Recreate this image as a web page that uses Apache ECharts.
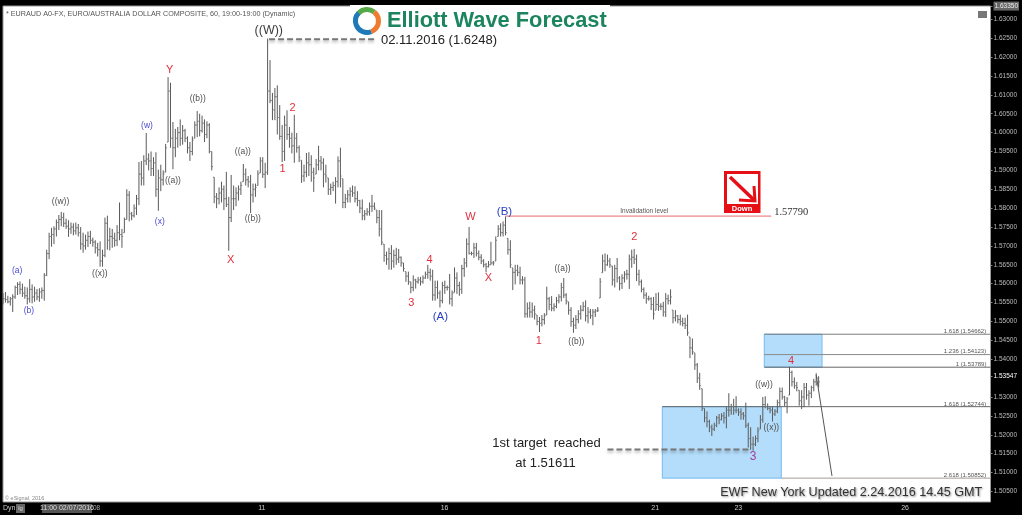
<!DOCTYPE html>
<html><head><meta charset="utf-8">
<style>html,body{margin:0;padding:0;background:#fff;width:1024px;height:517px;overflow:hidden}#c{width:1022px;height:515px}</style>
<script src="https://cdn.jsdelivr.net/npm/echarts@6/dist/echarts.min.js"></script>
</head><body><div id="c"></div>
<script>
const highs=[
1.5575,1.5578,1.5568,1.5565,1.5572,1.5595,1.5604,1.5606,1.5600,1.5592,
1.5590,1.5612,1.5598,1.5592,1.5586,1.5588,1.5590,1.5628,1.5690,1.5735,
1.5748,1.5752,1.5770,1.5782,1.5790,1.5788,1.5772,1.5768,1.5762,1.5760,
1.5762,1.5758,1.5750,1.5735,1.5730,1.5738,1.5740,1.5722,1.5715,1.5708,
1.5712,1.5690,1.5775,1.5780,1.5748,1.5745,1.5735,1.5755,1.5815,1.5745,
1.5775,1.5850,1.5845,1.5790,1.5810,1.5835,1.5922,1.5925,1.5940,1.5999,
1.5945,1.5950,1.5935,1.5948,1.5902,1.5915,1.5900,1.5970,1.6147,1.6132,
1.6028,1.6010,1.6015,1.6035,1.6020,1.6010,1.5990,1.5975,1.5990,1.6030,
1.6057,1.6050,1.6045,1.6035,1.6030,1.6025,1.5950,1.5882,1.5840,1.5855,
1.5870,1.5860,1.5896,1.5830,1.5888,1.5860,1.5855,1.5860,1.5870,1.5917,
1.5905,1.5885,1.5888,1.5865,1.5865,1.5900,1.5935,1.5935,1.5920,1.6249,
1.6192,1.6105,1.6118,1.6125,1.6073,1.6020,1.6045,1.6059,1.6015,1.6000,
1.6047,1.5999,1.5966,1.5927,1.5915,1.5946,1.5948,1.5940,1.5907,1.5930,
1.5965,1.5938,1.5932,1.5915,1.5880,1.5865,1.5870,1.5882,1.5937,1.5960,
1.5878,1.5838,1.5848,1.5855,1.5860,1.5858,1.5845,1.5822,1.5823,1.5795,
1.5800,1.5815,1.5835,1.5815,1.5795,1.5795,1.5795,1.5705,1.5685,1.5695,
1.5702,1.5690,1.5695,1.5692,1.5672,1.5655,1.5632,1.5632,1.5605,1.5622,
1.5613,1.5618,1.5618,1.5622,1.5632,1.5650,1.5640,1.5637,1.5608,1.5608,
1.5582,1.5605,1.5608,1.5595,1.5626,1.5582,1.5643,1.5630,1.5605,1.5650,
1.5668,1.5720,1.5750,1.5685,1.5708,1.5708,1.5688,1.5678,1.5665,1.5655,
1.5660,1.5711,1.5660,1.5725,1.5755,1.5760,1.5765,1.5778,1.5720,1.5715,
1.5642,1.5650,1.5650,1.5645,1.5620,1.5618,1.5550,1.5552,1.5550,1.5542,
1.5517,1.5512,1.5517,1.5522,1.5592,1.5565,1.5567,1.5548,1.5565,1.5572,
1.5602,1.5615,1.5575,1.5552,1.5538,1.5510,1.5517,1.5530,1.5543,1.5552,
1.5556,1.5538,1.5533,1.5533,1.5533,1.5538,1.5615,1.5677,1.5680,1.5677,
1.5668,1.5647,1.5650,1.5668,1.5620,1.5625,1.5633,1.5637,1.5677,1.5690,
1.5692,1.5677,1.5637,1.5611,1.5590,1.5577,1.5568,1.5564,1.5565,1.5575,
1.5577,1.5548,1.5552,1.5575,1.5571,1.5585,1.5530,1.5530,1.5517,1.5518,
1.5510,1.5510,1.5518,1.5459,1.5455,1.5417,1.5390,1.5364,1.5322,1.5270,
1.5262,1.5240,1.5227,1.5232,1.5250,1.5255,1.5257,1.5260,1.5273,1.5310,
1.5282,1.5295,1.5302,1.5270,1.5270,1.5260,1.5285,1.5232,1.5220,1.5195,
1.5198,1.5220,1.5252,1.5300,1.5302,1.5283,1.5273,1.5273,1.5268,1.5293,
1.5325,1.5325,1.5303,1.5300,1.5380,1.5370,1.5352,1.5340,1.5318,1.5318,
1.5337,1.5337,1.5318,1.5330,1.5348,1.5363,1.5355];
const lows=[
1.5545,1.5550,1.5548,1.5542,1.5525,1.5560,1.5570,1.5572,1.5565,1.5560,
1.5545,1.5550,1.5548,1.5552,1.5556,1.5552,1.5560,1.5555,1.5620,1.5665,
1.5698,1.5705,1.5725,1.5742,1.5752,1.5750,1.5745,1.5724,1.5732,1.5728,
1.5730,1.5725,1.5690,1.5682,1.5690,1.5697,1.5705,1.5698,1.5680,1.5672,
1.5645,1.5645,1.5670,1.5690,1.5688,1.5695,1.5698,1.5700,1.5715,1.5695,
1.5735,1.5770,1.5765,1.5768,1.5775,1.5782,1.5808,1.5860,1.5860,1.5914,
1.5900,1.5885,1.5885,1.5830,1.5793,1.5845,1.5860,1.5895,1.5975,1.5960,
1.5903,1.5935,1.5960,1.5965,1.5968,1.5975,1.5945,1.5925,1.5940,1.5985,
1.5988,1.5990,1.6000,1.5975,1.5985,1.5945,1.5900,1.5813,1.5800,1.5810,
1.5815,1.5795,1.5803,1.5687,1.5763,1.5795,1.5805,1.5820,1.5835,1.5870,
1.5860,1.5855,1.5787,1.5815,1.5830,1.5860,1.5893,1.5880,1.5853,1.5888,
1.6078,1.6033,1.6033,1.5995,1.5981,1.5922,1.5925,1.5981,1.5960,1.5945,
1.5920,1.5947,1.5922,1.5867,1.5870,1.5882,1.5885,1.5870,1.5843,1.5890,
1.5900,1.5900,1.5855,1.5868,1.5835,1.5835,1.5845,1.5812,1.5855,1.5855,
1.5800,1.5800,1.5815,1.5815,1.5830,1.5815,1.5805,1.5787,1.5768,1.5768,
1.5780,1.5780,1.5790,1.5795,1.5760,1.5725,1.5702,1.5658,1.5650,1.5637,
1.5637,1.5642,1.5650,1.5655,1.5645,1.5632,1.5605,1.5597,1.5575,1.5580,
1.5587,1.5600,1.5595,1.5600,1.5613,1.5613,1.5608,1.5555,1.5555,1.5560,
1.5537,1.5548,1.5573,1.5582,1.5545,1.5540,1.5577,1.5573,1.5568,1.5573,
1.5618,1.5643,1.5677,1.5675,1.5668,1.5672,1.5662,1.5652,1.5643,1.5630,
1.5643,1.5650,1.5648,1.5660,1.5725,1.5725,1.5725,1.5728,1.5677,1.5642,
1.5583,1.5598,1.5620,1.5598,1.5598,1.5510,1.5510,1.5510,1.5510,1.5505,
1.5490,1.5472,1.5487,1.5492,1.5517,1.5530,1.5527,1.5527,1.5535,1.5548,
1.5553,1.5562,1.5545,1.5518,1.5486,1.5470,1.5480,1.5495,1.5505,1.5527,
1.5500,1.5495,1.5507,1.5490,1.5512,1.5525,1.5562,1.5629,1.5633,1.5647,
1.5642,1.5595,1.5590,1.5603,1.5582,1.5586,1.5603,1.5611,1.5586,1.5642,
1.5652,1.5607,1.5595,1.5577,1.5560,1.5547,1.5555,1.5530,1.5505,1.5530,
1.5528,1.5530,1.5513,1.5512,1.5545,1.5545,1.5495,1.5500,1.5495,1.5490,
1.5487,1.5480,1.5462,1.5403,1.5412,1.5372,1.5337,1.5319,1.5263,1.5233,
1.5220,1.5207,1.5197,1.5210,1.5220,1.5228,1.5238,1.5230,1.5217,1.5248,
1.5253,1.5253,1.5257,1.5250,1.5240,1.5240,1.5218,1.5166,1.5160,1.5158,
1.5170,1.5180,1.5215,1.5232,1.5270,1.5265,1.5257,1.5235,1.5250,1.5257,
1.5275,1.5293,1.5275,1.5257,1.5305,1.5328,1.5322,1.5315,1.5277,1.5268,
1.5273,1.5293,1.5277,1.5297,1.5315,1.5330,1.5325];
const closes=[
1.5560,1.5558,1.5552,1.5560,1.5565,1.5590,1.5598,1.5585,1.5575,1.5568,
1.5560,1.5585,1.5565,1.5575,1.5565,1.5578,1.5582,1.5622,1.5680,1.5725,
1.5730,1.5745,1.5762,1.5770,1.5775,1.5760,1.5752,1.5745,1.5750,1.5740,
1.5748,1.5735,1.5705,1.5700,1.5715,1.5725,1.5715,1.5710,1.5695,1.5690,
1.5660,1.5675,1.5760,1.5715,1.5725,1.5720,1.5715,1.5735,1.5730,1.5725,
1.5770,1.5835,1.5785,1.5780,1.5800,1.5825,1.5890,1.5880,1.5925,1.5930,
1.5925,1.5905,1.5920,1.5850,1.5880,1.5875,1.5890,1.5960,1.6110,1.5985,
1.5960,1.5985,1.6000,1.5985,1.6005,1.5985,1.5960,1.5950,1.5980,1.6020,
1.6030,1.6005,1.6025,1.5995,1.6020,1.5950,1.5910,1.5830,1.5825,1.5840,
1.5850,1.5825,1.5810,1.5775,1.5825,1.5825,1.5840,1.5850,1.5860,1.5890,
1.5875,1.5870,1.5835,1.5850,1.5855,1.5890,1.5925,1.5890,1.5895,1.6110,
1.6085,1.6060,1.6095,1.6040,1.5990,1.5950,1.6020,1.5995,1.5985,1.5965,
1.5985,1.5960,1.5935,1.5885,1.5895,1.5920,1.5915,1.5895,1.5880,1.5915,
1.5925,1.5920,1.5890,1.5885,1.5850,1.5855,1.5860,1.5870,1.5925,1.5885,
1.5815,1.5825,1.5835,1.5845,1.5840,1.5825,1.5820,1.5800,1.5780,1.5785,
1.5790,1.5805,1.5805,1.5800,1.5775,1.5745,1.5710,1.5675,1.5665,1.5680,
1.5660,1.5675,1.5665,1.5670,1.5655,1.5640,1.5620,1.5605,1.5590,1.5610,
1.5605,1.5610,1.5605,1.5615,1.5625,1.5630,1.5620,1.5570,1.5590,1.5575,
1.5555,1.5595,1.5590,1.5590,1.5560,1.5575,1.5615,1.5595,1.5585,1.5640,
1.5655,1.5705,1.5680,1.5680,1.5695,1.5680,1.5670,1.5660,1.5650,1.5645,
1.5650,1.5655,1.5655,1.5715,1.5745,1.5735,1.5755,1.5735,1.5690,1.5650,
1.5630,1.5635,1.5630,1.5610,1.5610,1.5520,1.5535,1.5525,1.5530,1.5520,
1.5500,1.5495,1.5505,1.5515,1.5560,1.5545,1.5535,1.5540,1.5555,1.5565,
1.5590,1.5570,1.5555,1.5530,1.5500,1.5490,1.5505,1.5520,1.5530,1.5540,
1.5515,1.5525,1.5515,1.5525,1.5528,1.5530,1.5605,1.5660,1.5650,1.5660,
1.5650,1.5610,1.5640,1.5615,1.5600,1.5615,1.5625,1.5625,1.5665,1.5670,
1.5665,1.5625,1.5605,1.5585,1.5570,1.5560,1.5560,1.5545,1.5520,1.5545,
1.5540,1.5540,1.5525,1.5560,1.5555,1.5565,1.5510,1.5515,1.5505,1.5500,
1.5495,1.5490,1.5470,1.5430,1.5420,1.5385,1.5350,1.5330,1.5270,1.5245,
1.5235,1.5220,1.5215,1.5225,1.5245,1.5240,1.5250,1.5245,1.5265,1.5265,
1.5275,1.5265,1.5265,1.5260,1.5255,1.5250,1.5225,1.5190,1.5175,1.5175,
1.5190,1.5210,1.5240,1.5280,1.5275,1.5270,1.5265,1.5255,1.5262,1.5285,
1.5315,1.5300,1.5285,1.5295,1.5365,1.5340,1.5330,1.5325,1.5290,1.5300,
1.5325,1.5305,1.5310,1.5325,1.5340,1.5350,1.5340];

const priceTicks=[1.6335,1.63,1.625,1.62,1.615,1.61,1.605,1.6,1.595,1.59,1.585,1.58,1.575,1.57,1.565,1.56,1.555,1.55,1.545,1.54,1.53547,1.53,1.525,1.52,1.515,1.51,1.505];
const dateTicks=[106.6,181.9,268.7,302.9,371.6];
const dateLabels=['11','16','21','23','26'];

// [x0 index, x1 index, price a, price b]
const zones=[[271.6,320.6,1.52744,1.50852],[313.6,337.4,1.54662,1.53789]];
// [price, start index, end index, style]
const levels=[
 [1.54662,313.6,406.8,'#7d7d7d'],[1.54123,313.6,406.8,'#8a8a8a'],[1.53789,313.6,406.8,'#666'],
 [1.52744,271.6,406.8,'#666'],[1.50852,320.6,406.8,'#a89a9a'],[1.5779,207,316.5,'#e86a6a']];
const dashedLevels=[[1.6247,109.6,153],[1.5161,249,308.2]];
const projection=[[335,1.5358],[341.5,1.5091]];

// [text, index, price, style]
const notes=[
['(a)',5.8,1.5634,'b'],['(b)',10.7,1.5528,'b'],['((w))',23.7,1.5816,'g'],['((x))',39.9,1.5626,'g'],
['(w)',59.3,1.6019,'b'],['(x)',64.6,1.5764,'b'],['Y',68.7,1.6166,'r'],['((a))',70,1.5872,'g'],
['((b))',80.2,1.6090,'g'],['((a))',98.8,1.5949,'g'],['((b))',102.9,1.5771,'g'],['X',93.8,1.5663,'r'],
['((W))',109.5,1.6270,'G'],['2',119.3,1.6065,'r'],['1',115.2,1.5904,'r'],['W',192.6,1.5777,'r'],
['(B)',206.6,1.5791,'B'],['4',175.7,1.5663,'r'],['3',168.2,1.5550,'r'],['(A)',180.2,1.5512,'B'],
['X',200,1.5616,'r'],['1',220.7,1.5449,'r'],['((a))',230.5,1.5639,'g'],['((b))',236.2,1.5446,'g'],
['2',260.1,1.5724,'r'],['Invalidation level',264.2,1.5793,'s'],['4',324.6,1.5396,'r'],
['((w))',313.5,1.5334,'g'],['((x))',316.5,1.5219,'g'],['3',309,1.5141,'p'],
['1st target  reached',223.9,1.5178,'t'],['at 1.51611',223.5,1.5125,'t'],
['02.11.2016 (1.6248)',179.6,1.6243,'t'],['1.57790',324.7,1.5790,'v'],
['EWF New York Updated 2.24.2016 14.45 GMT',349.4,1.5048,'e'],
['1.618 (1.54662)',396.3,1.5475,'f'],['1.236 (1.54123)',396.3,1.5420,'f'],['1 (1.53789)',398.8,1.5387,'f'],
['1.618 (1.52744)',396.3,1.5281,'f'],['2.618 (1.50852)',396.3,1.5093,'f']];

const sans='"Liberation Sans"';
const noteStyles={
 b:{font:'8.5px '+sans,fill:'#4a4ad0'},g:{font:'8.5px '+sans,fill:'#4d4d4d'},
 r:{font:'11px '+sans,fill:'#e0303c'},B:{font:'11.5px '+sans,fill:'#2a3fc0'},
 G:{font:'12.5px '+sans,fill:'#3c3c3c'},p:{font:'12px '+sans,fill:'#a0409c'},
 s:{font:'6.5px '+sans,fill:'#555'},t:{font:'13px '+sans,fill:'#222'},
 v:{font:'10.5px "Liberation Serif"',fill:'#333'},f:{font:'6px '+sans,fill:'#555'},
 e:{font:'12.6px '+sans,fill:'#333',textShadowColor:'rgba(0,0,0,.45)',textShadowBlur:2,textShadowOffsetX:1,textShadowOffsetY:1}
};

const chart=echarts.init(document.getElementById('c'),null,{renderer:'canvas'});
const barData=highs.map((h,i)=>[i,h,lows[i],closes[i],i?closes[i-1]:closes[0]]);
const lineSeries=levels.map(l=>({type:'line',silent:true,symbol:'none',z:3,animation:false,
  data:[[l[1],l[0]],[l[2],l[0]]],lineStyle:{color:l[3],width:1}}));
const dashSeries=dashedLevels.map(l=>({type:'line',silent:true,symbol:'none',z:6,animation:false,
  data:[[l[1],l[0]],[l[2],l[0]]],lineStyle:{color:'#777',width:2,type:[6,3],shadowColor:'rgba(0,0,0,.3)',shadowBlur:3,shadowOffsetY:2}}));

chart.setOption({
 animation:false,backgroundColor:'#000',
 grid:{left:3,right:30.5,top:6,bottom:13,show:true,backgroundColor:'#fff',borderColor:'#999',borderWidth:1},
 xAxis:{type:'value',min:0,max:406.8,splitLine:{show:false},axisLine:{show:false,onZero:false},
  axisTick:{show:false},
  axisLabel:{customValues:dateTicks,color:'#ccc',fontSize:7,margin:3,fontFamily:'Liberation Sans',
   formatter:v=>dateLabels[dateTicks.indexOf(v)]||''}},
 yAxis:{type:'value',position:'right',min:1.5022,max:1.63352,splitLine:{show:false},axisLine:{show:false,onZero:false},
  axisTick:{show:true,length:2,lineStyle:{color:'#888'},customValues:priceTicks},
  axisLabel:{customValues:priceTicks,color:'#bbb',fontSize:6.5,margin:3,fontFamily:'Liberation Sans',
   formatter:v=>v===1.6335?'{t|1.63350}':v===1.53547?'{c|1.53547}':'{n|'+v.toFixed(5)+'}',
   rich:{n:{color:'#bbb',fontSize:6.5},t:{color:'#eee',fontSize:6.5,backgroundColor:'#666',padding:[1,1]},c:{color:'#fff',fontSize:6.5}}}},
 series:[
  {type:'custom',silent:true,z:2,data:zones,clip:true,
   renderItem:(p,api)=>{const a=api.coord([api.value(0),api.value(2)]),b=api.coord([api.value(1),api.value(3)]);
    return {type:'rect',shape:{x:a[0],y:a[1],width:b[0]-a[0],height:b[1]-a[1]},
     style:{fill:'#b3ddfb',stroke:'#74bbf0',lineWidth:1}};},
   encode:{x:[0,1],y:[2,3]}},
  ...lineSeries,
  {type:'custom',silent:true,z:5,data:barData,clip:true,
   renderItem:(p,api)=>{const i=api.value(0),h=api.coord([i,api.value(1)]),l=api.coord([i,api.value(2)]),
     c=api.coord([i,api.value(3)]),o=api.coord([i,api.value(4)]),s={stroke:'#5a5a5a',lineWidth:1};
    const oy=Math.min(Math.max(o[1],h[1]),l[1]);
    return {type:'group',children:[
     {type:'line',shape:{x1:h[0],y1:h[1],x2:l[0],y2:l[1]},style:s},
     {type:'line',shape:{x1:h[0]-1.2,y1:oy,x2:h[0],y2:oy},style:{stroke:'#777',lineWidth:1}},
     {type:'line',shape:{x1:h[0],y1:c[1],x2:h[0]+1.2,y2:c[1]},style:{stroke:'#777',lineWidth:1}}]};},
   encode:{x:0,y:[1,2]}},
  ...dashSeries,
  {type:'line',silent:true,symbol:'none',z:6,data:projection,lineStyle:{color:'#555',width:1}},
  {type:'custom',silent:true,z:8,clip:false,data:notes.map(n=>[n[1],n[2]]),
   renderItem:(p,api)=>{const n=notes[p.dataIndex],c=api.coord([api.value(0),api.value(1)]);
    return {type:'text',style:Object.assign({text:n[0],x:c[0],y:c[1],align:'center',verticalAlign:'middle'},noteStyles[n[3]])};},
   encode:{x:0,y:1}}
 ],
 graphic:[
  {type:'rect',z:20,shape:{x:350,y:5,width:260,height:30},style:{fill:'#fff'}},
  {type:'arc',z:21,shape:{cx:367,cy:21,r:11.5,startAngle:-2.4,endAngle:-0.9},style:{stroke:'#57a948',fill:null,lineWidth:5}},
  {type:'arc',z:21,shape:{cx:367,cy:21,r:11.5,startAngle:-0.9,endAngle:1.2},style:{stroke:'#ee7b30',fill:null,lineWidth:5}},
  {type:'arc',z:21,shape:{cx:367,cy:21,r:11.5,startAngle:1.2,endAngle:3.9},style:{stroke:'#1f78b8',fill:null,lineWidth:5}},
  {type:'text',z:21,style:{text:'Elliott Wave Forecast',x:387,y:21,verticalAlign:'middle',font:'bold 21.8px "Liberation Sans"',fill:'#1c8560'}},
  {type:'text',z:21,style:{text:'* EURAUD A0-FX, EURO/AUSTRALIA DOLLAR COMPOSITE, 60, 19:00-19:00 (Dynamic)',x:6,y:14,verticalAlign:'middle',font:'7.2px "Liberation Sans"',fill:'#555'}},
  {type:'text',z:21,style:{text:'© eSignal, 2016',x:5,y:498,verticalAlign:'middle',font:'5.5px "Liberation Sans"',fill:'#888'}},
  {type:'rect',z:21,shape:{x:978,y:11,width:9,height:7},style:{fill:'#777'}},
  {type:'rect',z:21,shape:{x:724,y:171,width:36.5,height:42},style:{fill:'#e60f16'}},
  {type:'rect',z:22,shape:{x:727,y:174,width:31,height:30},style:{fill:'#fff'}},
  {type:'polyline',z:23,shape:{points:[[730,177],[754,200]]},style:{stroke:'#e60f16',lineWidth:3.5,fill:null}},
  {type:'polyline',z:23,shape:{points:[[754,186],[755,201],[739,200]]},style:{stroke:'#e60f16',lineWidth:3,fill:null}},
  {type:'text',z:23,style:{text:'Down',x:742,y:209,align:'center',verticalAlign:'middle',font:'bold 7.5px "Liberation Sans"',fill:'#fff'}},
  {type:'text',z:23,style:{text:'Dyn',x:3,y:508,verticalAlign:'middle',font:'7px "Liberation Sans"',fill:'#ccc'}},
  {type:'rect',z:23,shape:{x:16,y:504,width:9,height:9},style:{fill:'#666'}},
  {type:'text',z:24,style:{text:'lg',x:20.5,y:508.5,align:'center',verticalAlign:'middle',font:'6px "Liberation Sans"',fill:'#ddd'}},
  {type:'rect',z:23,shape:{x:42,y:504,width:50,height:9},style:{fill:'#555'}},
  {type:'text',z:24,style:{text:'11:00 02/07/2016',x:67,y:508.5,align:'center',verticalAlign:'middle',font:'7px "Liberation Sans"',fill:'#ddd'}},
  {type:'text',z:24,style:{text:'08',x:93,y:508.5,verticalAlign:'middle',font:'6.5px "Liberation Sans"',fill:'#aaa'}}
 ]
});
</script></body></html>
